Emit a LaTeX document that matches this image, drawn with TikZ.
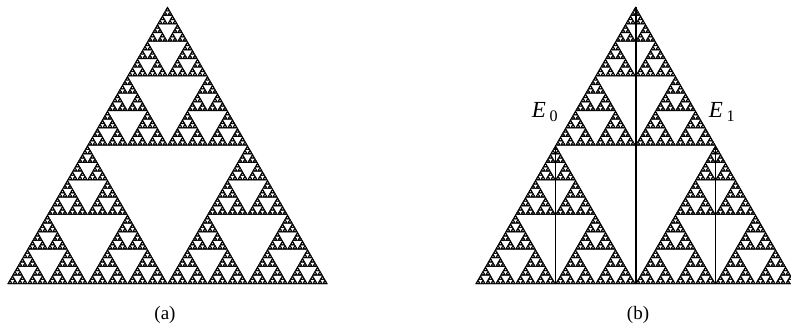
\documentclass[tikz,border=0pt]{standalone}
\usepackage{fontspec}
\setmainfont{Liberation Serif}
\usepackage{tikz}
\usetikzlibrary{positioning,calc}

% gasket: level, x and y of the lower left corner, side
\newcommand{\gasket}[4]{%
  \ifnum#1<1
    \filldraw[line width=0.45pt,line join=round] (#2,#3) -- (#2+#4,#3) -- (#2+0.5*#4,#3+0.866025*#4) -- cycle;
  \else
    \begingroup
    \pgfmathsetmacro\gh{#4/2}%
    \pgfmathsetmacro\gxm{#2+\gh}%
    \pgfmathsetmacro\gxq{#2+\gh/2}%
    \pgfmathsetmacro\gym{#3+0.866025*\gh}%
    \pgfmathtruncatemacro\glev{#1-1}%
    \edef\gnext{\noexpand\gasket{\glev}{#2}{#3}{\gh}%
      \noexpand\gasket{\glev}{\gxm}{#3}{\gh}%
      \noexpand\gasket{\glev}{\gxq}{\gym}{\gh}}%
    \gnext
    \endgroup
  \fi}

\begin{document}
\begin{tikzpicture}[x=1pt,y=1pt,
    every node/.style={font=\fontsize{19}{22}\selectfont},
    lab/.style={font=\fontsize{23}{27}\selectfont},
    cut/.style={line width=0.9pt},
    mid/.style={line width=2pt}]
  \useasboundingbox (0,0) rectangle (791,329);
  \clip (0,0) rectangle (791,329);

  % (a)
  \gasket{7}{7.5}{45}{320}
  \node (capa) at (165,14) {(a)};

  % (b)
  \gasket{7}{475.5}{45}{320}
  \coordinate (apex) at (635.5,322);
  \coordinate (foot) at (635.5,45);
  \coordinate (apexL) at (555.5,183.6);
  \coordinate (footL) at (555.5,45);
  \coordinate (apexR) at (715.5,183.6);
  \coordinate (footR) at (715.5,45);
  \draw[mid] (apex) -- (foot);
  \draw[cut] (apexL) -- (footL);
  \draw[cut] (apexR) -- (footR);
  \node[lab] (e0) at (545,217) {\textit{E}\,\textsubscript{0}};
  \node[lab] (e1) at (722,217) {\textit{E}\,\textsubscript{1}};
  \node (capb) at (638,14) {(b)};
\end{tikzpicture}
\end{document}
